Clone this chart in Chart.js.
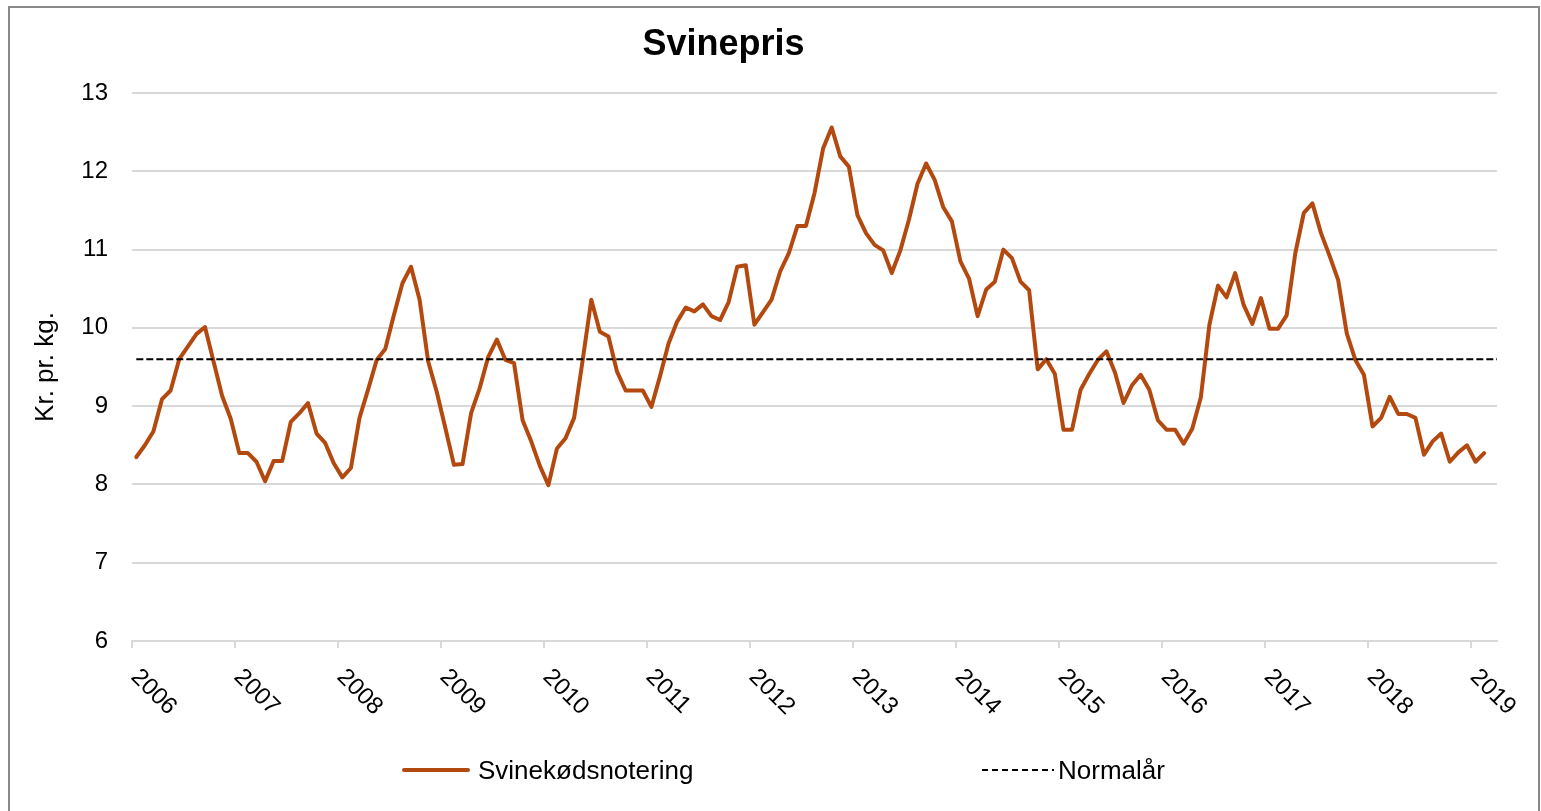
<!DOCTYPE html>
<html>
<head>
<meta charset="utf-8">
<script src="https://cdn.jsdelivr.net/npm/chart.js@4.4.1/dist/chart.umd.min.js"></script>
<style>
html,body{margin:0;padding:0;background:#fff;overflow:hidden}
#wrap{width:1541px;height:811px;position:relative}
canvas{display:block}
</style>
</head>
<body>
<div id="wrap"><canvas id="c" width="1541" height="811"></canvas></div>
<script>
// ---- Texts ----
const chartTitle = 'Svinepris';
const yAxisTitle = 'Kr. pr. kg.';
const seriesNames = ['Svinekødsnotering', 'Normalår'];

// ---- Categories / ticks ----
const startYear = 2006;               // first month: January 2006
const xAxisEnd = 2019.25;             // axis runs through March 2019
const yearTicks = [2006, 2007, 2008, 2009, 2010, 2011, 2012, 2013, 2014, 2015, 2016, 2017, 2018, 2019];
const yTicks = [6, 7, 8, 9, 10, 11, 12, 13];

// ---- Monthly values, Svinekødsnotering (kr. pr. kg.) ----
const p2006 = [8.35, 8.50, 8.68, 9.09, 9.20, 9.60, 9.76, 9.92, 10.01, 9.57, 9.13, 8.84];
const p2007 = [8.40, 8.40, 8.29, 8.04, 8.30, 8.30, 8.80, 8.91, 9.04, 8.65, 8.53, 8.27];
const p2008 = [8.09, 8.21, 8.85, 9.21, 9.59, 9.73, 10.16, 10.57, 10.78, 10.36, 9.57, 9.18];
const p2009 = [8.72, 8.25, 8.26, 8.91, 9.23, 9.63, 9.85, 9.59, 9.55, 8.82, 8.55, 8.24];
const p2010 = [7.99, 8.46, 8.59, 8.85, 9.59, 10.36, 9.95, 9.89, 9.44, 9.20, 9.20, 9.20];
const p2011 = [8.99, 9.38, 9.80, 10.08, 10.26, 10.21, 10.30, 10.15, 10.10, 10.33, 10.78, 10.80];
const p2012 = [10.04, 10.20, 10.36, 10.72, 10.95, 11.30, 11.30, 11.72, 12.29, 12.56, 12.19, 12.06];
const p2013 = [11.44, 11.21, 11.06, 10.99, 10.70, 10.99, 11.38, 11.84, 12.10, 11.89, 11.54, 11.36];
const p2014 = [10.85, 10.63, 10.15, 10.49, 10.59, 11.00, 10.89, 10.59, 10.48, 9.47, 9.60, 9.41];
const p2015 = [8.70, 8.70, 9.21, 9.41, 9.59, 9.70, 9.43, 9.04, 9.27, 9.40, 9.21, 8.82];
const p2016 = [8.70, 8.70, 8.52, 8.71, 9.11, 10.04, 10.54, 10.39, 10.70, 10.29, 10.05, 10.38];
const p2017 = [9.99, 9.99, 10.16, 10.95, 11.47, 11.59, 11.21, 10.92, 10.61, 9.93, 9.59, 9.40];
const p2018 = [8.74, 8.85, 9.12, 8.90, 8.90, 8.85, 8.38, 8.55, 8.65, 8.29, 8.41, 8.50];
const p2019 = [8.29, 8.40];

// ---- Normalår (kr. pr. kg.) ----
const normalaar = 9.6;

// ---- Styles ----
const ORANGE = '#B4490F';
const GRID = '#d9d9d9';
const FONT = '"Liberation Sans", Arial, Helvetica, sans-serif';

// ---- Build data for the library ----
const svinekod = [].concat(p2006, p2007, p2008, p2009, p2010, p2011, p2012, p2013, p2014, p2015, p2016, p2017, p2018, p2019);
// each monthly value sits in the middle of its month (decimal year)
const pricePoints = svinekod.map((v, i) => ({ x: startYear + (i + 0.5) / 12, y: v }));
const normalPoints = [
  { x: startYear + 0.5 / 12, y: normalaar },
  { x: xAxisEnd, y: normalaar }
];

Chart.defaults.font.family = FONT;
Chart.defaults.color = '#000';

const decorPlugin = {
  id: 'decor',
  beforeDraw(chart) {
    const ctx = chart.ctx;
    ctx.save();
    ctx.fillStyle = '#fff';
    ctx.fillRect(0, 0, chart.width, chart.height);
    ctx.restore();
  },
  afterDraw(chart) {
    const ctx = chart.ctx;
    const xs = chart.scales.x;
    ctx.save();
    // outer chart frame
    ctx.strokeStyle = '#898989';
    ctx.lineWidth = 2;
    ctx.strokeRect(9, 7, 1530, 830);

    // title
    ctx.fillStyle = '#000';
    ctx.font = 'bold 36px ' + FONT;
    ctx.textAlign = 'center';
    ctx.textBaseline = 'alphabetic';
    ctx.fillText(chartTitle, 723.5, 55);

    // rotated x tick labels (down-right, as in the original)
    ctx.font = '24px ' + FONT;
    ctx.textAlign = 'left';
    ctx.textBaseline = 'alphabetic';
    yearTicks.forEach(yr => {
      const px = xs.getPixelForValue(yr);
      ctx.save();
      ctx.translate(px - 2, 678);
      ctx.rotate(Math.PI / 4);
      ctx.fillText(String(yr), 0, 0);
      ctx.restore();
    });

    // legend
    const ds = chart.data.datasets;
    ctx.lineCap = 'round';
    ctx.strokeStyle = ds[0].borderColor;
    ctx.lineWidth = ds[0].borderWidth;
    ctx.setLineDash([]);
    ctx.beginPath(); ctx.moveTo(404, 770); ctx.lineTo(468, 770); ctx.stroke();
    ctx.lineCap = 'butt';
    ctx.strokeStyle = ds[1].borderColor;
    ctx.lineWidth = ds[1].borderWidth;
    ctx.setLineDash([6, 4]);
    ctx.beginPath(); ctx.moveTo(982, 770); ctx.lineTo(1054, 770); ctx.stroke();
    ctx.setLineDash([]);
    ctx.font = '26px ' + FONT;
    ctx.fillStyle = '#000';
    ctx.textAlign = 'left';
    ctx.fillText(ds[0].label, 478, 779);
    ctx.fillText(ds[1].label, 1058, 779);
    ctx.restore();
  }
};

new Chart(document.getElementById('c'), {
  type: 'line',
  data: {
    datasets: [
      {
        label: seriesNames[0],
        data: pricePoints,
        borderColor: ORANGE,
        backgroundColor: ORANGE,
        borderWidth: 4,
        pointRadius: 0,
        tension: 0,
        borderJoinStyle: 'round',
        borderCapStyle: 'round',
        order: 1
      },
      {
        label: seriesNames[1],
        data: normalPoints,
        borderColor: '#000',
        backgroundColor: 'rgba(0,0,0,0)',
        borderWidth: 2,
        borderDash: [7, 3],
        pointRadius: 0,
        order: 0
      }
    ]
  },
  options: {
    responsive: false,
    animation: false,
    devicePixelRatio: 1,
    events: [],
    layout: { padding: { left: 0, right: 44, top: 93, bottom: 163 } },
    plugins: {
      legend: { display: false },
      title: { display: false },
      tooltip: { enabled: false }
    },
    scales: {
      x: {
        type: 'linear',
        min: startYear,
        max: xAxisEnd,
        afterBuildTicks: s => { s.ticks = yearTicks.map(v => ({ value: v })); },
        ticks: { display: false },
        grid: { drawOnChartArea: false, drawTicks: true, tickLength: 7, color: GRID, lineWidth: 2 },
        border: { display: true, color: GRID, width: 2 },
        afterFit: s => { s.height = 7; }
      },
      y: {
        type: 'linear',
        min: 6,
        max: 13,
        afterBuildTicks: s => { s.ticks = yTicks.map(v => ({ value: v })); },
        ticks: { font: { size: 24 }, color: '#000', padding: 24 },
        grid: { color: GRID, lineWidth: 2, drawTicks: false },
        border: { display: false },
        title: { display: true, text: yAxisTitle, font: { size: 26 }, color: '#000', padding: { top: 30, bottom: 0 } },
        afterFit: s => { s.width = 132; }
      }
    }
  },
  plugins: [decorPlugin]
});
</script>
</body>
</html>
